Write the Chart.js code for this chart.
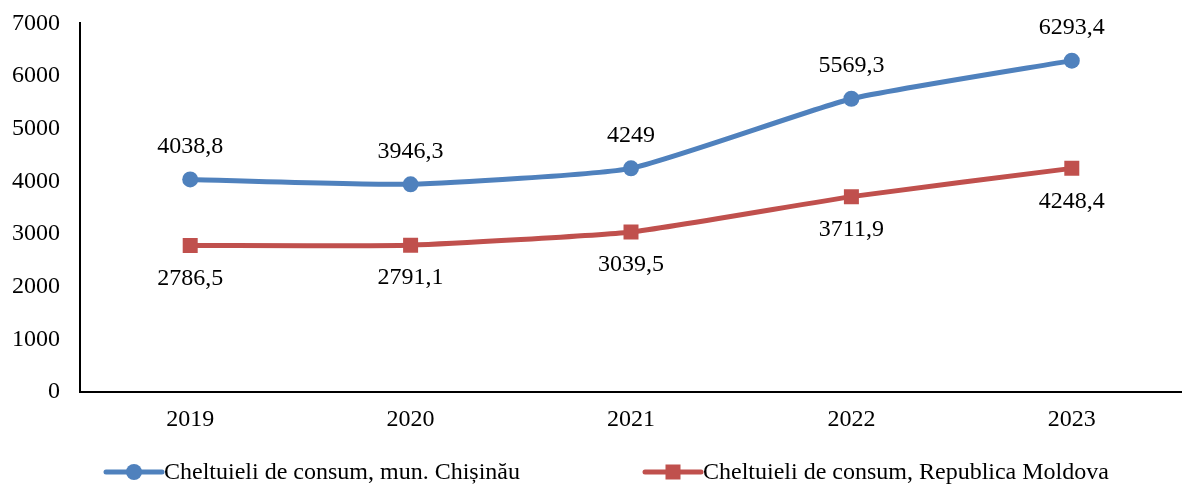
<!DOCTYPE html>
<html>
<head>
<meta charset="utf-8">
<script src="https://cdn.jsdelivr.net/npm/chart.js@4.4.1/dist/chart.umd.min.js"></script>
<style>
  html, body { margin: 0; padding: 0; background: #fff; overflow: hidden; }
  #wrap { width: 1182px; height: 496px; position: relative; margin-top: -11px; }
</style>
</head>
<body>
<div id="wrap"><canvas id="consum"></canvas></div>
<script>
const years = ["2019", "2020", "2021", "2022", "2023"];
const chisinau = [4038.8, 3946.3, 4249, 5569.3, 6293.4];
const moldova = [2786.5, 2791.1, 3039.5, 3711.9, 4248.4];
const seriesNames = ["Cheltuieli de consum, mun. Chișinău", "Cheltuieli de consum, Republica Moldova"];
const labelSide = [-1, 1]; // -1 above, 1 below

const FONT = "'Liberation Serif', 'Times New Roman', serif";
const BLUE = "#4f81bd";
const RED = "#c0504d";

const fmt = v => String(v).replace(".", ",");

// value labels next to each point
const pointLabels = {
  id: "pointLabels",
  afterDatasetsDraw(chart) {
    const ctx = chart.ctx;
    ctx.save();
    ctx.font = "24px " + FONT;
    ctx.fillStyle = "#000";
    ctx.textAlign = "center";
    ctx.textBaseline = "middle";
    chart.data.datasets.forEach((ds, i) => {
      chart.getDatasetMeta(i).data.forEach((pt, j) => {
        ctx.fillText(fmt(ds.data[j]), pt.x, pt.y + labelSide[i] * 33);
      });
    });
    ctx.restore();
  }
};

// legend drawn by hand: line with marker, then the text
const lineLegend = {
  id: "lineLegend",
  afterDraw(chart) {
    const ctx = chart.ctx;
    const y = chart.height - 13;
    const starts = [106, 645];
    ctx.save();
    ctx.font = "24px " + FONT;
    ctx.textBaseline = "middle";
    chart.data.datasets.forEach((ds, i) => {
      const x0 = starts[i];
      const w = 56;
      ctx.strokeStyle = ds.borderColor;
      ctx.lineWidth = 5;
      ctx.lineCap = "round";
      ctx.beginPath();
      ctx.moveTo(x0, y);
      ctx.lineTo(x0 + w, y);
      ctx.stroke();
      ctx.fillStyle = ds.borderColor;
      if (ds.pointStyle === "rect") {
        ctx.fillRect(x0 + w / 2 - 7.5, y - 7.5, 15, 15);
      } else {
        ctx.beginPath();
        ctx.arc(x0 + w / 2, y, 8, 0, Math.PI * 2);
        ctx.fill();
      }
      ctx.fillStyle = "#000";
      ctx.fillText(ds.label, x0 + w + 2, y + 1);
    });
    ctx.restore();
  }
};

new Chart(document.getElementById("consum").getContext("2d"), {
  type: "line",
  data: {
    labels: years,
    datasets: [
      {
        label: seriesNames[0],
        data: chisinau,
        borderColor: BLUE,
        backgroundColor: BLUE,
        borderWidth: 5,
        pointStyle: "circle",
        pointRadius: 8,
        pointHoverRadius: 8,
        pointBorderWidth: 0,
        tension: 0.15
      },
      {
        label: seriesNames[1],
        data: moldova,
        borderColor: RED,
        backgroundColor: RED,
        borderWidth: 5,
        pointStyle: "rect",
        pointRadius: 10.6,
        pointHoverRadius: 10.6,
        pointBorderWidth: 0,
        tension: 0.15
      }
    ]
  },
  options: {
    responsive: true,
    maintainAspectRatio: false,
    animation: false,
    layout: { autoPadding: false, padding: { top: 0, right: 0, bottom: 38, left: -8 } },
    plugins: {
      legend: { display: false },
      tooltip: { enabled: false }
    },
    scales: {
      x: {
        offset: true,
        grid: { display: false, drawTicks: false },
        border: { display: true, color: "#000", width: 2 },
        ticks: { color: "#000", font: { family: FONT, size: 24 }, padding: 13 }
      },
      y: {
        min: 0,
        max: 7000,
        grid: { display: false, drawTicks: false },
        border: { display: true, color: "#000", width: 2 },
        ticks: {
          stepSize: 1000,
          color: "#000",
          font: { family: FONT, size: 24 },
          padding: 20,
          callback: v => String(v)
        }
      }
    }
  },
  plugins: [pointLabels, lineLegend]
});
</script>
</body>
</html>
